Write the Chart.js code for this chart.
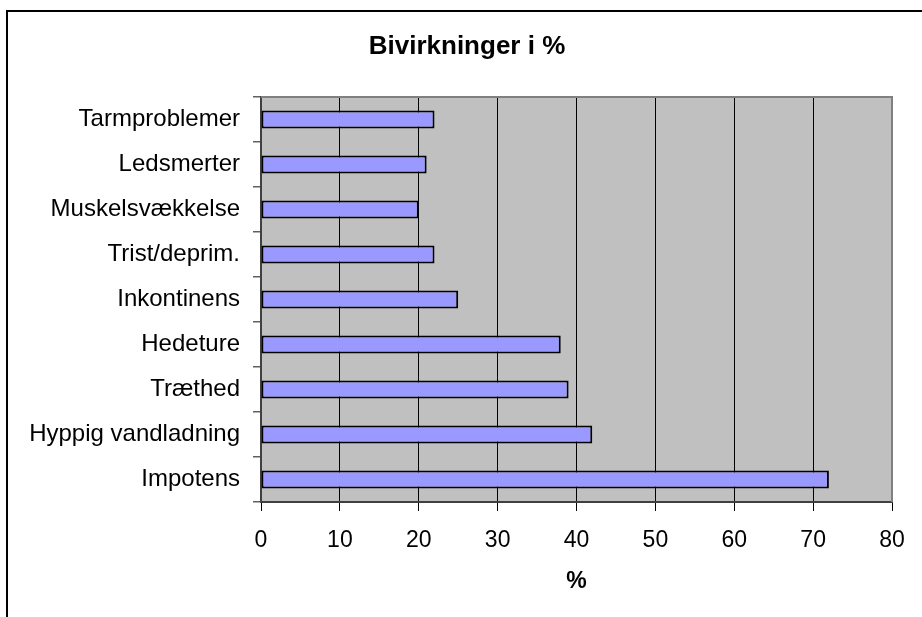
<!DOCTYPE html>
<html>
<head>
<meta charset="utf-8">
<script src="https://cdn.jsdelivr.net/npm/chart.js@4"></script>
<style>
  body { margin: 0; background: #fff; }
  #wrap { position: relative; width: 922px; height: 617px; overflow: hidden; }
  #ramme { position: absolute; left: 6px; top: 10px; width: 960px; height: 700px;
           border-top: 2px solid #000; border-left: 2px solid #000; }
  canvas { position: absolute; left: 0; top: 0; }
</style>
</head>
<body>
<div id="wrap">
  <div id="ramme"></div>
  <canvas id="chart" width="922" height="617"></canvas>
</div>
<script>
const titel = "Bivirkninger i %";
const aksetitel = "%";

const kategorier = [
  "Tarmproblemer",
  "Ledsmerter",
  "Muskelsvækkelse",
  "Trist/deprim.",
  "Inkontinens",
  "Hedeture",
  "Træthed",
  "Hyppig vandladning",
  "Impotens"
];

const procenter = [22, 21, 20, 22, 25, 38, 39, 42, 72];

const xMin = 0;
const xMax = 80;
const xStep = 10;

const font = "'Liberation Sans', Arial, sans-serif";

// grå baggrund i plotområdet + titel
const baggrund = {
  id: "baggrund",
  beforeDraw(chart) {
    const { ctx, chartArea: a } = chart;
    ctx.save();
    ctx.fillStyle = "#C0C0C0";
    ctx.fillRect(a.left, a.top, a.right - a.left, a.bottom - a.top);
    ctx.restore();
  },
  afterDatasetsDraw(chart) {
    const { ctx, chartArea: a } = chart;
    ctx.save();
    ctx.strokeStyle = "#808080";
    ctx.lineWidth = 2;
    ctx.beginPath();
    ctx.moveTo(a.left, a.top);
    ctx.lineTo(a.right, a.top);
    ctx.lineTo(a.right, a.bottom);
    ctx.stroke();
    ctx.restore();
  },
  afterDraw(chart) {
    const { ctx } = chart;
    ctx.save();
    ctx.fillStyle = "#000";
    ctx.font = "bold 26px " + font;
    ctx.textAlign = "center";
    ctx.textBaseline = "middle";
    ctx.fillText(titel, 467, 47);
    ctx.restore();
  }
};

new Chart(document.getElementById("chart"), {
  type: "bar",
  data: {
    labels: kategorier,
    datasets: [{
      data: procenter,
      backgroundColor: "#9999FF",
      borderColor: "#000",
      borderWidth: 2,
      borderSkipped: false,
      barPercentage: 0.4,
      categoryPercentage: 1
    }]
  },
  options: {
    indexAxis: "y",
    responsive: false,
    animation: false,
    layout: { padding: { top: 97, right: 30, left: 0, bottom: 0 } },
    plugins: {
      legend: { display: false },
      title: { display: false },
      tooltip: { enabled: false }
    },
    scales: {
      x: {
        min: xMin,
        max: xMax,
        afterFit: s => { s.height = 115; },
        ticks: {
          stepSize: xStep,
          color: "#000",
          padding: 16,
          font: { family: font, size: 23 }
        },
        grid: {
          color: "#000",
          lineWidth: 1,
          tickLength: 9,
          tickColor: "#000"
        },
        border: { color: "#404040", width: 2 },
        title: {
          display: true,
          text: aksetitel,
          color: "#000",
          font: { family: font, size: 23, weight: "bold" },
          padding: { top: 22, bottom: 22 }
        }
      },
      y: {
        afterFit: s => { s.width = 261; },
        ticks: {
          color: "#000",
          padding: 13,
          font: { family: font, size: 24 }
        },
        grid: {
          offset: true,
          drawOnChartArea: false,
          tickLength: 8,
          tickColor: "#606060",
          lineWidth: 1.5
        },
        border: { color: "#404040", width: 2 }
      }
    }
  },
  plugins: [baggrund]
});
</script>
</body>
</html>
